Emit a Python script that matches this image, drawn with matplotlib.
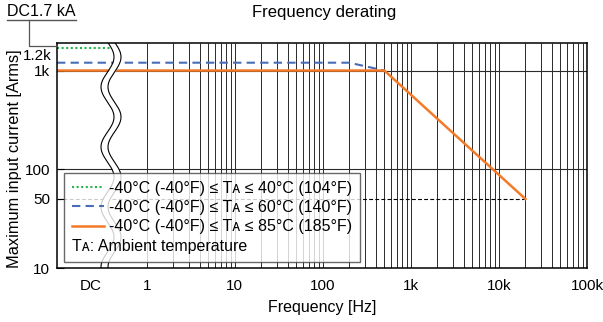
import numpy as np
import matplotlib
matplotlib.use("Agg")
import matplotlib.pyplot as plt
from matplotlib.lines import Line2D

plt.rcParams['font.family'] = ['Liberation Sans', 'DejaVu Sans']

# ---------------- data ----------------
x_tick_vals = [0.23, 1, 10, 100, 1e3, 1e4, 1e5]
x_tick_labels = ['DC', '1', '10', '100', '1k', '10k', '100k']
y_tick_vals = [10, 50, 100, 1000]
y_tick_labels = ['10', '50', '100', '1k']

# 40 degC curve (DC only)
green_f = [0.096, 0.40]
green_i = [1700, 1700]
# 60 degC curve
blue_f = [0.096, 200, 500]
blue_i = [1200, 1200, 1000]
# 85 degC curve
orange_f = [0.096, 500, 20000]
orange_i = [1000, 1000, 50]
# dashed reference at 50 A up to 20 kHz
ref_f = [0.096, 20000]
ref_i = [50, 50]

labels = ['-40°C (-40°F) ≤ Tᴀ ≤ 40°C (104°F)',
          '-40°C (-40°F) ≤ Tᴀ ≤ 60°C (140°F)',
          '-40°C (-40°F) ≤ Tᴀ ≤ 85°C (185°F)']
note = 'Tᴀ: Ambient temperature'

c_green = '#25b34a'
c_blue = '#4a6cb8'
c_orange = '#f47a28'

XMIN, XMAX = 0.096, 1e5
YMIN, YMAX = 10, 1900

fig = plt.figure(figsize=(6.03, 3.22), dpi=100)
ax = fig.add_axes([57/603, 1-268/322, 530/603, 225/322])
ax.set_xscale('log')
ax.set_yscale('log')
ax.set_xlim(XMIN, XMAX)
ax.set_ylim(YMIN, YMAX)

# vertical grid (1 Hz .. 100 kHz)
gridx = []
for d in [1, 10, 100, 1e3, 1e4]:
    for m in range(1, 10):
        gridx.append(d*m)
gridx.append(1e5)
ax.vlines(gridx, 0, 1, transform=ax.get_xaxis_transform(),
          color='#2a2a2a', lw=0.7, zorder=1)
ax.hlines([100, 1000], 0, 1, transform=ax.get_yaxis_transform(),
          color='#2a2a2a', lw=0.8, zorder=1)

ax.plot(ref_f, ref_i, color='black', lw=0.8, ls=(0, (3.5, 2)), zorder=2)
l1, = ax.plot(green_f, green_i, color=c_green, lw=1.5, ls=(0, (1, 1.2)), zorder=3)
l2, = ax.plot(blue_f, blue_i, color=c_blue, lw=1.5, ls=(0, (4, 2.5)), zorder=3)
l3, = ax.plot(orange_f, orange_i, color=c_orange, lw=1.8, zorder=4)

# wavy axis break
p = np.linspace(43, 268, 400)
xc = 111 + 6.5*np.cos(2*np.pi*(p-117)/60)
yf = (268 - p)/225
xl = (xc - 3.5 - 57)/530
xr = (xc + 3.5 - 57)/530
ax.fill_betweenx(yf, xl, xr, color='white', transform=ax.transAxes, zorder=5, lw=0)
ax.plot(xl, yf, color='black', lw=0.8, transform=ax.transAxes, zorder=6)
ax.plot(xr, yf, color='black', lw=0.8, transform=ax.transAxes, zorder=6)

# ticks
ax.set_xticks(x_tick_vals, x_tick_labels)
ax.xaxis.set_minor_locator(matplotlib.ticker.NullLocator())
ax.set_yticks(y_tick_vals, y_tick_labels)
ax.yaxis.set_minor_locator(matplotlib.ticker.NullLocator())
ax.tick_params(axis='x', length=0, pad=8, labelsize=11)
ax.tick_params(axis='y', direction='in', length=5, width=0.8, pad=5, labelsize=11)
ax.text(-0.011, 1200, '1.2k', transform=ax.get_yaxis_transform(),
        ha='right', va='bottom', fontsize=11)
for s in ax.spines.values():
    s.set_linewidth(1.1)
    s.set_zorder(7)

ax.set_xlabel('Frequency [Hz]', fontsize=11.5, labelpad=5)
ax.set_ylabel('Maximum input current [Arms]', fontsize=11.8)
ax.yaxis.set_label_coords(-0.066, 0.484)

# legend
blank = Line2D([], [], lw=0)
leg = ax.legend([l1, l2, l3, blank], labels + [note], loc='lower left',
                bbox_to_anchor=(0.0132, 0.027), borderaxespad=0,
                fontsize=11.5, frameon=True, fancybox=False,
                handlelength=2.0, handletextpad=0.3, labelspacing=0.28,
                borderpad=0.5)
leg.get_frame().set_edgecolor('#444444')
leg.get_frame().set_linewidth(1.0)
leg.set_zorder(10)
try:
    col = leg._legend_handle_box.get_children()[0]
    row = col.get_children()[3]
    row._children = [row._children[1]]
except Exception:
    pass

# title and DC annotation
fig.text(324/603, 1-12/322, 'Frequency derating', ha='center', va='center', fontsize=12)
fig.text(7/603, 1-12/322, 'DC1.7 kA', ha='left', va='center', fontsize=11.5)
fig.add_artist(Line2D([7/603, 76/603], [1-20/322, 1-20/322], color='#555555', lw=1.0))
fig.add_artist(Line2D([29/603, 29/603, 57/603], [1-20/322, 1-46/322, 1-46/322],
                      color='#555555', lw=0.9))

fig.savefig('out.png', dpi=100)
